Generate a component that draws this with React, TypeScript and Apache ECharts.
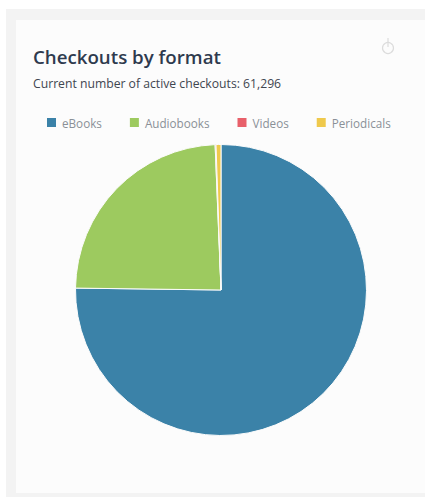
import React, { useEffect, useRef } from "react";
import * as echarts from "echarts";

const categories = ["eBooks", "Audiobooks", "Videos", "Periodicals"];
const checkouts = [46100, 14800, 60, 336];
const colors = ["#3b82a8", "#9dca5f", "#e8606a", "#efc94c"];
const titleText = "Checkouts by format";
const subtitleText = "Current number of active checkouts: 61,296";

const font = "'Open Sans', Lato, sans-serif";

export default function App() {
  const ref = useRef<HTMLDivElement>(null);
  useEffect(() => {
    const chart = echarts.init(ref.current!, undefined, { renderer: "svg" });
    chart.setOption({
      animation: false,
      backgroundColor: "#ffffff",
      color: colors,
      title: [
        {
          text: titleText,
          left: 33,
          top: 47,
          padding: 0,
          textStyle: { fontFamily: font, fontSize: 18.7, fontWeight: 600, color: "#2e3a4e" },
        },
        {
          text: subtitleText,
          left: 33,
          top: 77,
          padding: 0,
          textStyle: { fontFamily: font, fontSize: 12.2, fontWeight: 500, color: "#3f4650" },
        },
      ],
      legend: {
        data: categories,
        left: 45,
        top: 116,
        padding: 0,
        itemWidth: 11,
        itemHeight: 11,
        itemGap: 26,
        icon: "rect",
        textStyle: { fontFamily: font, fontSize: 11.7, color: "#8a9097", padding: [0, 0, 0, 0] },
      },
      series: [
        {
          type: "pie",
          center: [221, 290],
          radius: [0, 145.5],
          startAngle: 90,
          clockwise: true,
          label: { show: false },
          labelLine: { show: false },
          itemStyle: { borderColor: "#fcfcfc", borderWidth: 1 },
          data: categories.map((name, i) => ({ name, value: checkouts[i] })),
        },
      ],
      graphic: [
        { type: "rect", z: -10, shape: { x: 6, y: 9, width: 419, height: 488 }, style: { fill: "#f3f3f3" } },
        { type: "rect", z: -9, shape: { x: 16, y: 20, width: 409, height: 473 }, style: { fill: "#fcfcfc" } },
        { type: "circle", shape: { cx: 388, cy: 48, r: 5.5 }, style: { fill: "none", stroke: "#dcdcdc", lineWidth: 1.2 } },
        { type: "line", shape: { x1: 388, y1: 38, x2: 388, y2: 47 }, style: { stroke: "#dcdcdc", lineWidth: 1.2 } },
      ],
    });
    return () => chart.dispose();
  }, []);
  return <div ref={ref} style={{ position: "fixed", left: 0, top: 0, width: 425, height: 500 }} />;
}
